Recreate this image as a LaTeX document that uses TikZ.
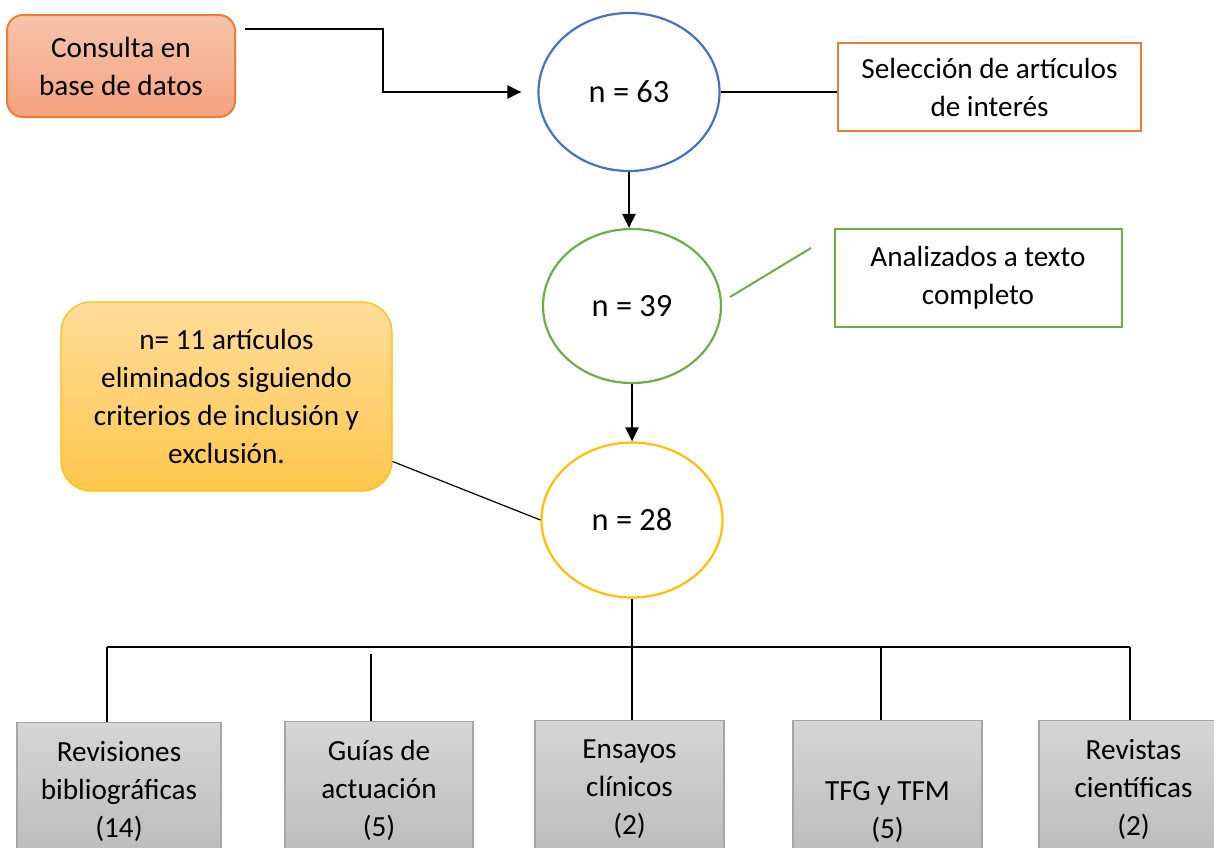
\documentclass[tikz,border=0pt]{standalone}
\usepackage{fontspec}
\setmainfont{Carlito}
\usepackage{tikz}
\usetikzlibrary{arrows.meta}
\usetikzlibrary{positioning,shapes}
\usepackage{xcolor}
\definecolor{azul}{HTML}{4472C4}
\definecolor{naranja}{HTML}{ED7D31}
\definecolor{verde}{HTML}{70AD47}
\definecolor{oro}{HTML}{FFC000}
\definecolor{salmonA}{HTML}{F7C4AC}
\definecolor{salmonB}{HTML}{F4A27F}
\definecolor{amarilloA}{HTML}{FFDC9A}
\definecolor{amarilloB}{HTML}{FFC74D}
\definecolor{grisA}{HTML}{D6D6D6}
\definecolor{grisB}{HTML}{BBBBBB}
\definecolor{grisborde}{HTML}{A5A5A5}
\tikzset{
    every node/.style={font=\fontsize{14.6pt}{19pt}\selectfont},
    flecha/.style={
        draw,
        -{Triangle[length=7pt, width=6.5pt]},
        line width=1.2pt
    }
}

\begin{document}
\begin{tikzpicture}[x=0.5pt, y=-0.5pt]
  % Define styles for nodes
  \tikzset{
    conteo/.style={
      draw,
      ellipse,
      fill=white,
      line width=1.1pt,
      inner sep=0pt,
      font=\fontsize{16.2pt}{19pt}\selectfont
    },
    caja/.style={
      draw,
      rectangle,
      fill=white,
      line width=1pt,
      align=center,
      inner sep=0pt
    },
    tipo/.style={
      draw=grisborde,
      line width=0.6pt,
      top color=grisA,
      bottom color=grisB,
      align=center,
      inner sep=0pt,
      minimum height=69pt,
      anchor=north
    },
    linea/.style={
      draw=black,
      line width=0.6pt
    }
  }
  \useasboundingbox (0,0) rectangle (1214,847);

  % Counts
  \node[conteo, draw=azul, minimum width=90.5pt, minimum height=79pt] (n63) at (629,92) {n = 63};
  \node[conteo, draw=verde, minimum width=89pt, minimum height=77pt] (n39) at (632,306) {n = 39};
  \node[conteo, draw=oro, minimum width=90.5pt, minimum height=77.5pt] (n28) at (632,520) {n = 28};

  % Side boxes
  \node[caja, rounded corners=8pt, draw=naranja, top color=salmonA, bottom color=salmonB,
        minimum width=114pt, minimum height=51pt] (consulta) at (121,66) {Consulta en\\base de datos};
  \node[caja, draw=naranja, minimum width=151.5pt, minimum height=44pt] (sel) at (989.5,87) {Selección de artículos\\de interés};
  \node[caja, draw=verde, minimum width=143.5pt, minimum height=49pt] (anal) at (978,278) {Analizados a texto\\completo};
  \node[caja, rounded corners=15pt, draw=oro, line width=0.6pt, top color=amarilloA, bottom color=amarilloB,
        minimum width=165.5pt, minimum height=94.5pt] (elim) at (226.5,396.5)
        {n= 11 artículos\\eliminados siguiendo\\criterios de inclusión y\\exclusión.};

  % Type of document
  \node[tipo, minimum width=102pt] (rev) at (119,722) {Revisiones\\bibliográficas\\(14)};
  \node[tipo, minimum width=94pt] (guia) at (379,721) {Guías de\\actuación\\(5)};
  \node[tipo, minimum width=94.5pt] (ens) at (629.5,720) {Ensayos\\clínicos\\(2)};
  \node[tipo, minimum width=94.5pt] (tfg) at (887.5,720) {\strut\\TFG y TFM\\(5)};
  \node[tipo, minimum width=94.5pt] (revi) at (1133.5,720) {Revistas\\científicas\\(2)};

  % Connectors
  \coordinate (salida) at (245,29);
  \draw[flecha, shorten >=8pt] (salida) -- ++(138,0) |- (n63.west);
  \draw[flecha] (n63.south) -- (n63.south |- n39.north);
  \draw[flecha] (n39.south) -- (n28.north);
  \draw[linea] (n63.east) -- (n63.east -| sel.west);
  \coordinate (g1) at (730,297);
  \coordinate (g2) at (811,248);
  \draw[verde, line width=1pt] (g1) -- (g2);
  \draw[linea] ([yshift=-32.5pt]elim.east) -- (n28.west);

  % Branches to document types
  \coordinate (barI) at (107,647);
  \coordinate (barD) at (1130,647);
  \coordinate (guiaT) at (371,654);
  \coordinate (tfgT) at (881,647);
  \draw[linea] (barI) -- (barD);
  \draw[linea] (n28.south) -- (n28.south |- ens.north);
  \foreach \c/\b in {barI/rev, guiaT/guia, tfgT/tfg, barD/revi} {
    \draw[linea] (\c) -- (\c |- \b.north);
  }
\end{tikzpicture}
\end{document}
